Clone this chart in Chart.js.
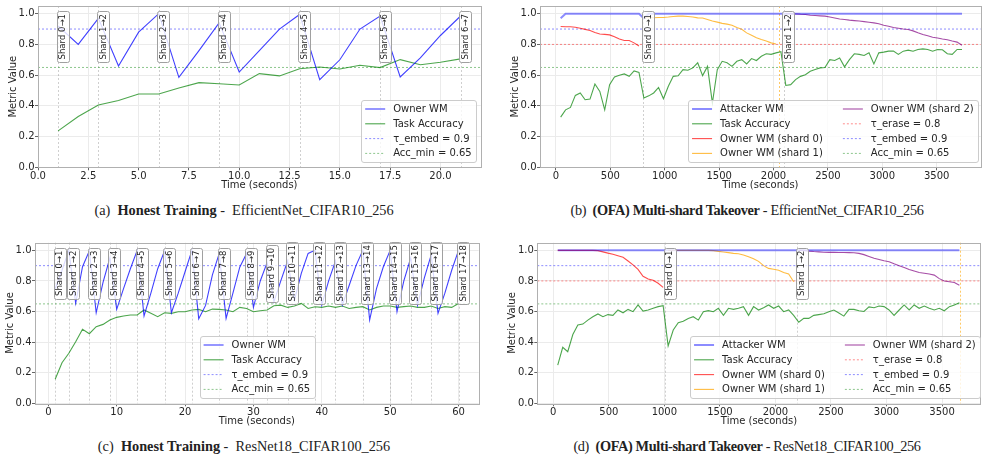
<!DOCTYPE html>
<html>
<head>
<meta charset="utf-8">
<script src="https://cdn.jsdelivr.net/npm/chart.js@4.4.1/dist/chart.umd.min.js"></script>
<style>
  body { margin: 0; background: #fff; }
  #page { position: relative; width: 989px; height: 461px; overflow: hidden; background: #fff; }
  canvas { position: absolute; }
  .cap { position: absolute; width: 494px; text-align: center; white-space: nowrap;
         font-family: "Liberation Serif", "DejaVu Serif", serif; font-size: 14.3px; color: #222; }
  .cap.r { letter-spacing: -0.35px; }
</style>
</head>
<body>
<div id="page">
  <canvas id="chartA"></canvas>
  <canvas id="chartB"></canvas>
  <canvas id="chartC"></canvas>
  <canvas id="chartD"></canvas>
  <div class="cap" style="left:-3px;top:202px">(a)&nbsp; <b>Honest Training</b> -&nbsp; EfficientNet_CIFAR10_256</div>
  <div class="cap r" style="left:500px;top:202px">(b)&nbsp; <b>(OFA) Multi-shard Takeover</b> - EfficientNet_CIFAR10_256</div>
  <div class="cap" style="left:-3px;top:438px">(c)&nbsp; <b>Honest Training</b> -&nbsp; ResNet18_CIFAR100_256</div>
  <div class="cap r" style="left:500px;top:438px">(d)&nbsp; <b>(OFA) Multi-shard Takeover</b> - ResNet18_CIFAR100_256</div>
</div>
<script>
// ---- thresholds / shared ----
const tauEmbed = 0.9;
const tauErase = 0.8;
const accMin = 0.65;
const yTicks = [0, 0.2, 0.4, 0.6, 0.8, 1.0];

// ---- (a) honest training, EfficientNet ----
const timeA = [1, 2, 3, 4, 5, 6, 7, 8, 9, 10, 11, 12, 13, 14, 15, 16, 17, 18, 19, 20, 21];
const ownerA = [0.92, 0.80, 0.97, 0.66, 0.88, 1.0, 0.585, 0.76, 0.94, 0.62, 0.76, 0.90, 0.995, 0.57, 0.70, 0.90, 0.985, 0.588, 0.712, 0.858, 0.985];
const accA = [0.237, 0.331, 0.405, 0.435, 0.477, 0.477, 0.516, 0.551, 0.544, 0.536, 0.61, 0.595, 0.642, 0.653, 0.64, 0.664, 0.649, 0.701, 0.668, 0.684, 0.706];
const shardTimesA = [1, 3, 6, 9, 13, 17, 21];
const shardLabelsA = ['Shard 0→1', 'Shard 1→2', 'Shard 2→3', 'Shard 3→4', 'Shard 4→5', 'Shard 5→6', 'Shard 6→7'];
const xTicksA = [0, 2.5, 5, 7.5, 10, 12.5, 15, 17.5, 20];

// ---- (b) OFA takeover, EfficientNet ----
const timeB = [43, 88, 133, 178, 223, 268, 313, 358, 403, 448, 493, 538, 583, 628, 673, 718, 763, 808, 853, 898,
  943, 988, 1033, 1078, 1123, 1168, 1213, 1258, 1303, 1348, 1393, 1438, 1483, 1528, 1573, 1618, 1663, 1708, 1753, 1798,
  1843, 1888, 1933, 1978, 2023, 2068, 2113, 2158, 2203, 2248, 2293, 2338, 2383, 2428, 2473, 2518, 2563, 2608, 2653, 2698,
  2743, 2788, 2833, 2878, 2923, 2968, 3013, 3058, 3103, 3148, 3193, 3238, 3283, 3328, 3373, 3418, 3463, 3508, 3553, 3598,
  3643, 3688, 3733];
const attackerB = [0.97, 1, 1, 1, 1, 1, 1, 1, 1, 1, 1, 1, 1, 1, 1, 1, 1, 0.97, 1, 1,
  1, 1, 1, 1, 1, 1, 1, 1, 1, 1, 1, 1, 1, 1, 1, 1, 1, 1, 1, 1,
  1, 1, 1, 1, 1, 1, 1, 1, 1, 1, 1, 1, 1, 1, 1, 1, 1, 1, 1, 1,
  1, 1, 1, 1, 1, 1, 1, 1, 1, 1, 1, 1, 1, 1, 1, 1, 1, 1, 1, 1,
  1, 1, 1];
const accB = [0.327, 0.374, 0.39, 0.468, 0.484, 0.44, 0.444, 0.542, 0.494, 0.374, 0.538, 0.588, 0.599, 0.608, 0.592, 0.627, 0.618, 0.451, 0.465, 0.484,
  0.52, 0.446, 0.527, 0.592, 0.596, 0.636, 0.632, 0.647, 0.68, 0.597, 0.657, 0.418, 0.636, 0.69, 0.68, 0.657, 0.69, 0.701, 0.673, 0.708,
  0.695, 0.723, 0.739, 0.735, 0.745, 0.752, 0.533, 0.538, 0.571, 0.592, 0.603, 0.625, 0.636, 0.647, 0.65, 0.701, 0.695, 0.712, 0.654, 0.701,
  0.739, 0.735, 0.728, 0.745, 0.673, 0.745, 0.75, 0.756, 0.756, 0.735, 0.756, 0.763, 0.756, 0.767, 0.771, 0.767, 0.756, 0.767, 0.765, 0.739,
  0.735, 0.767, 0.767];
// owner shards: value lists start at the given index of timeB
const ownerB0 = [0.917, 0.915, 0.915, 0.912, 0.905, 0.898, 0.89, 0.878, 0.868, 0.865, 0.862, 0.85, 0.835, 0.825, 0.825, 0.81, 0.79];
const ownerB0Start = 0;
const ownerB1 = [0.974, 0.974, 0.974, 0.975, 0.975, 0.978, 0.982, 0.984, 0.984, 0.982, 0.978, 0.973, 0.972, 0.962, 0.952, 0.945, 0.937, 0.932, 0.925, 0.91,
  0.898, 0.875, 0.86, 0.843, 0.832, 0.822, 0.81, 0.803];
const ownerB1Start = 17;
const ownerB2 = [1.0, 1.0, 0.998, 0.996, 0.995, 0.99, 0.988, 0.986, 0.984, 0.978, 0.972, 0.965, 0.962, 0.958, 0.955, 0.952, 0.948, 0.944, 0.94, 0.935,
  0.925, 0.918, 0.91, 0.905, 0.9, 0.897, 0.888, 0.876, 0.865, 0.856, 0.847, 0.842, 0.835, 0.83, 0.822, 0.815, 0.795];
const ownerB2Start = 46;
const shardTimesB = [804, 2093];
const shardLabelsB = ['Shard 0→1', 'Shard 1→2'];
const markTimesB = [2050];
const xTicksB = [0, 500, 1000, 1500, 2000, 2500, 3000, 3500];

// ---- (c) honest training, ResNet18 ----
const timeC = [1, 2, 3, 4, 5, 6, 7, 8, 9, 10, 11, 12, 13, 14, 15, 16, 17, 18, 19, 20,
  21, 22, 23, 24, 25, 26, 27, 28, 29, 30, 31, 32, 33, 34, 35, 36, 37, 38, 39, 40,
  41, 42, 43, 44, 45, 46, 47, 48, 49, 50, 51, 52, 53, 54, 55, 56, 57, 58, 59, 60];
const ownerC = [0.75, 0.87, 1.0, 0.654, 0.893, 0.997, 0.592, 0.79, 0.95, 0.614, 0.75, 0.88, 1.0, 0.571, 0.72, 0.88, 0.997, 0.592, 0.72, 0.86,
  1.0, 0.553, 0.64, 0.84, 0.98, 0.555, 0.72, 0.89, 0.98, 0.627, 0.8, 0.92, 0.664, 0.8, 0.93, 0.675, 0.85, 0.98, 1.0, 0.642,
  0.8, 0.93, 0.642, 0.77, 0.9, 1.0, 0.545, 0.75, 0.893, 1.0, 0.599, 0.8, 0.95, 0.642, 0.82, 0.97, 0.588, 0.72, 0.87, 1.0];
const accC = [0.157, 0.265, 0.327, 0.403, 0.484, 0.455, 0.501, 0.516, 0.545, 0.562, 0.571, 0.577, 0.577, 0.61, 0.588, 0.566, 0.592, 0.588, 0.599, 0.599,
  0.61, 0.614, 0.599, 0.616, 0.614, 0.61, 0.599, 0.627, 0.62, 0.599, 0.605, 0.61, 0.638, 0.642, 0.627, 0.636, 0.653, 0.62, 0.631, 0.627,
  0.636, 0.627, 0.636, 0.62, 0.627, 0.632, 0.61, 0.627, 0.636, 0.636, 0.627, 0.632, 0.636, 0.627, 0.627, 0.636, 0.62, 0.632, 0.627, 0.653];
const shardTimesC = [1, 3, 6, 9, 13, 17, 21, 25, 29, 32, 35, 39, 42, 46, 50, 53, 56, 60];
const shardLabelsC = ['Shard 0→1', 'Shard 1→2', 'Shard 2→3', 'Shard 3→4', 'Shard 4→5', 'Shard 5→6', 'Shard 6→7', 'Shard 7→8', 'Shard 8→9',
  'Shard 9→10', 'Shard 10→11', 'Shard 11→12', 'Shard 12→13', 'Shard 13→14', 'Shard 14→15', 'Shard 15→16', 'Shard 16→17', 'Shard 17→18'];
const xTicksC = [0, 10, 20, 30, 40, 50, 60];

// ---- (d) OFA takeover, ResNet18 ----
const timeD = [40, 85, 130, 176, 221, 266, 311, 356, 402, 447, 492, 537, 582, 628, 673, 718, 763, 808, 854, 899,
  944, 989, 1034, 1080, 1125, 1170, 1215, 1260, 1306, 1351, 1396, 1441, 1486, 1532, 1577, 1622, 1667, 1712, 1758, 1803,
  1848, 1893, 1938, 1984, 2029, 2074, 2119, 2164, 2210, 2255, 2300, 2345, 2390, 2436, 2481, 2526, 2571, 2616, 2662, 2707,
  2752, 2797, 2842, 2888, 2933, 2978, 3023, 3068, 3114, 3159, 3204, 3249, 3294, 3340, 3385, 3430, 3475, 3520, 3566, 3611,
  3656];
const attackerD = [1, 1, 1, 1, 1, 1, 1, 1, 1, 1, 1, 1, 1, 1, 1, 1, 1, 1, 1, 1,
  1, 1, 1, 1, 1, 1, 1, 1, 1, 1, 1, 1, 1, 1, 1, 1, 1, 1, 1, 1,
  1, 1, 1, 1, 1, 1, 1, 1, 1, 1, 1, 1, 1, 1, 1, 1, 1, 1, 1, 1,
  1, 1, 1, 1, 1, 1, 1, 1, 1, 1, 1, 1, 1, 1, 1, 1, 1, 1, 1, 1,
  1];
const accD = [0.25, 0.366, 0.337, 0.45, 0.512, 0.518, 0.544, 0.566, 0.584, 0.566, 0.58, 0.575, 0.61, 0.592, 0.614, 0.599, 0.643, 0.603, 0.61, 0.621,
  0.632, 0.638, 0.375, 0.479, 0.527, 0.536, 0.555, 0.566, 0.544, 0.599, 0.606, 0.599, 0.621, 0.575, 0.621, 0.614, 0.621, 0.632, 0.575, 0.632,
  0.61, 0.625, 0.643, 0.621, 0.636, 0.599, 0.61, 0.575, 0.53, 0.555, 0.555, 0.575, 0.58, 0.585, 0.599, 0.61, 0.59, 0.57, 0.614, 0.614,
  0.605, 0.6, 0.63, 0.625, 0.636, 0.632, 0.61, 0.575, 0.61, 0.643, 0.61, 0.643, 0.621, 0.636, 0.621, 0.61, 0.621, 0.605, 0.632, 0.643,
  0.658];
const ownerD0 = [1, 1, 1, 1, 1, 1, 1, 1, 0.998, 0.99, 0.982, 0.975, 0.965, 0.955, 0.93, 0.905, 0.875, 0.83, 0.812, 0.805, 0.785, 0.758];
const ownerD0Start = 0;
const ownerD1 = [1, 1, 1, 1, 1, 1, 1, 1, 1, 0.998, 0.993, 0.989, 0.985, 0.98, 0.978, 0.97, 0.958, 0.945, 0.928, 0.9,
  0.882, 0.876, 0.87, 0.855, 0.845, 0.795];
const ownerD1Start = 22;
const ownerD2 = [1, 1, 0.995, 0.992, 0.99, 0.988, 0.987, 0.987, 0.986, 0.986, 0.985, 0.984, 0.98, 0.972, 0.96, 0.948, 0.94, 0.932, 0.925, 0.912,
  0.9, 0.888, 0.875, 0.865, 0.855, 0.85, 0.845, 0.838, 0.815, 0.8, 0.795, 0.79, 0.772];
const ownerD2Start = 48;
const shardTimesD = [1006, 2196];
const shardLabelsD = ['Shard 0→1', 'Shard 1→2'];
const markTimesD = [3660];
const xTicksD = [0, 500, 1000, 1500, 2000, 2500, 3000, 3500];

// ---- style ----
const FONT = '"DejaVu Sans", sans-serif';
const TXT = '#262626';
const COL = {
  owner: 'rgba(0,0,255,0.75)',
  attacker: 'rgba(0,0,255,0.45)',
  acc: 'rgba(0,128,0,0.7)',
  s0: 'rgba(255,0,0,0.7)',
  s1: 'rgba(255,165,0,0.75)',
  s2: 'rgba(128,0,128,0.7)',
  embed: 'rgba(0,0,255,0.45)',
  erase: 'rgba(255,0,0,0.45)',
  accMin: 'rgba(0,128,0,0.45)'
};

function pts(times, vals) {
  return vals.map((v, i) => ({ x: times[i], y: v }));
}
function hline(v, xr) {
  return [{ x: xr[0], y: v }, { x: xr[1], y: v }];
}
function ds(label, data, color, width, dash) {
  return { label: label, data: data, borderColor: color, backgroundColor: color,
           borderWidth: width || 1.2, borderDash: dash || [], pointRadius: 0, fill: false, tension: 0 };
}

function panel(id, geo, xr, xTicks, xFmt, datasets, shards, shardLabels, marks, leg) {
  const cv = document.getElementById(id);
  cv.width = geo.w;
  cv.height = geo.h;
  cv.style.left = geo.x + 'px';
  cv.style.top = geo.y + 'px';
  const a = geo.area;
  const font = { family: FONT, size: 10, lineHeight: 1.0 };
  const titleFont = { family: FONT, size: 10, lineHeight: 1.2 };

  // full box around the plot area
  const frame = {
    id: 'frame',
    afterDraw(chart) {
      const ctx = chart.ctx, ca = chart.chartArea;
      ctx.save();
      ctx.strokeStyle = '#b0b0b0';
      ctx.lineWidth = 1;
      ctx.strokeRect(Math.round(ca.left) + 0.5, Math.round(ca.top) + 0.5,
                     Math.round(ca.right - ca.left), Math.round(ca.bottom - ca.top));
      ctx.restore();
    }
  };

  // shard switch lines + rotated labels
  const shardMarks = {
    id: 'shardMarks',
    beforeDatasetsDraw(chart) {
      const ctx = chart.ctx, ca = chart.chartArea, xs = chart.scales.x;
      ctx.save();
      ctx.lineWidth = 1;
      ctx.setLineDash([2, 2]);
      ctx.strokeStyle = 'rgba(128,128,128,0.38)';
      shards.forEach(t => {
        const px = Math.round(xs.getPixelForValue(t)) + 0.5;
        ctx.beginPath(); ctx.moveTo(px, ca.top); ctx.lineTo(px, ca.bottom); ctx.stroke();
      });
      ctx.strokeStyle = 'rgba(255,165,0,0.6)';
      marks.forEach(t => {
        const px = Math.round(xs.getPixelForValue(t)) + 0.5;
        ctx.beginPath(); ctx.moveTo(px, ca.top); ctx.lineTo(px, ca.bottom); ctx.stroke();
      });
      ctx.restore();
    },
    afterDatasetsDraw(chart) {
      const ctx = chart.ctx, xs = chart.scales.x, ys = chart.scales.y;
      ctx.save();
      ctx.font = '8.5px ' + FONT;
      shards.forEach((t, i) => {
        const lbl = shardLabels[i];
        const tw = ctx.measureText(lbl).width;
        const cx = xs.getPixelForValue(t) + 4.5;
        const cy = ys.getPixelForValue(0.85);
        const bw = 12, bh = tw + 6;
        ctx.beginPath();
        ctx.roundRect(Math.round(cx - bw / 2) + 0.5, Math.round(cy - bh / 2) + 0.5, bw, Math.round(bh), 2);
        ctx.fillStyle = 'rgba(255,255,255,0.8)';
        ctx.fill();
        ctx.strokeStyle = '#a0a0a0';
        ctx.lineWidth = 1;
        ctx.stroke();
        ctx.translate(cx + 0.5, cy);
        ctx.rotate(-Math.PI / 2);
        ctx.fillStyle = TXT;
        ctx.textAlign = 'center';
        ctx.textBaseline = 'middle';
        ctx.fillText(lbl, 0, 0);
        ctx.setTransform(1, 0, 0, 1, 0, 0);
      });
      ctx.restore();
    }
  };

  // matplotlib-like legend box inside the plot
  const boxLegend = {
    id: 'boxLegend',
    afterDraw(chart) {
      const ctx = chart.ctx, ca = chart.chartArea;
      const items = chart.data.datasets;
      ctx.save();
      ctx.font = '10px ' + FONT;
      const rows = Math.ceil(items.length / leg.cols);
      const colW = [];
      for (let c = 0; c < leg.cols; c++) {
        let m = 0;
        items.slice(c * rows, (c + 1) * rows).forEach(d => { m = Math.max(m, ctx.measureText(d.label).width); });
        colW.push(28 + m);
      }
      const w = 8 + colW.reduce((s, v) => s + v, 0) + (leg.cols - 1) * 20;
      const h = 8 + rows * 9.8 + (rows - 1) * 5;
      const bottom = ca.bottom - leg.dy;
      const left = leg.align === 'center' ? (ca.left + ca.right) / 2 - w / 2 : ca.right - leg.dx - w;
      const top = bottom - h;
      ctx.beginPath();
      ctx.roundRect(Math.round(left) + 0.5, Math.round(top) + 0.5, Math.round(w), Math.round(h), 2.5);
      ctx.fillStyle = 'rgba(255,255,255,0.8)';
      ctx.fill();
      ctx.strokeStyle = '#cccccc';
      ctx.lineWidth = 1;
      ctx.stroke();
      let cx = left + 4;
      for (let c = 0; c < leg.cols; c++) {
        items.slice(c * rows, (c + 1) * rows).forEach((d, i) => {
          const cy = top + 8.9 + i * 14.8;
          ctx.strokeStyle = d.borderColor;
          ctx.lineWidth = d.borderWidth;
          ctx.setLineDash(d.borderDash || []);
          ctx.beginPath(); ctx.moveTo(cx, cy); ctx.lineTo(cx + 20, cy); ctx.stroke();
          ctx.setLineDash([]);
          ctx.fillStyle = TXT;
          ctx.textAlign = 'left';
          ctx.textBaseline = 'middle';
          ctx.fillText(d.label, cx + 28, cy + 0.5);
        });
        cx += colW[c] + 20;
      }
      ctx.restore();
    }
  };

  return new Chart(cv, {
    type: 'line',
    data: { datasets: datasets },
    options: {
      responsive: false,
      animation: false,
      devicePixelRatio: 1,
      layout: { padding: { left: 0, top: a[1] - geo.y, right: geo.x + geo.w - a[2], bottom: 0 } },
      plugins: { legend: { display: false }, tooltip: { enabled: false } },
      scales: {
        x: {
          type: 'linear',
          min: xr[0],
          max: xr[1],
          afterBuildTicks: s => { s.ticks = xTicks.map(v => ({ value: v })); },
          afterFit: s => { s.height = geo.y + geo.h - a[3]; },
          ticks: { callback: xFmt, font: font, color: TXT, padding: 1, maxRotation: 0, autoSkip: false },
          grid: { color: '#ebebeb', tickColor: '#666', tickLength: 3 },
          border: { display: false },
          title: { display: true, text: 'Time (seconds)', font: titleFont, color: TXT, padding: { top: 0, bottom: 0 } }
        },
        y: {
          min: 0,
          max: 1.05,
          afterBuildTicks: s => { s.ticks = yTicks.map(v => ({ value: v })); },
          afterFit: s => { s.width = a[0] - geo.x; },
          ticks: { callback: v => v.toFixed(1), font: font, color: TXT, padding: 0.5 },
          grid: { color: '#ebebeb', tickColor: '#666', tickLength: 3 },
          border: { display: false },
          title: { display: true, text: 'Metric Value', font: titleFont, color: TXT, padding: { top: geo.yTitlePad, bottom: 0 } }
        }
      }
    },
    plugins: [shardMarks, frame, boxLegend]
  });
}

// ---- build panels ----
const xrA = [0, 22];
panel('chartA', { x: 0, y: 0, w: 494, h: 191, area: [38, 6, 480.7, 167.3], yTitlePad: 7 },
  xrA, xTicksA, v => v.toFixed(1), [
    ds('Owner WM', pts(timeA, ownerA), COL.owner, 1.1),
    ds('Task Accuracy', pts(timeA, accA), COL.acc, 1.1),
    ds('τ_embed = 0.9', hline(tauEmbed, xrA), COL.embed, 1, [2, 2]),
    ds('Acc_min = 0.65', hline(accMin, xrA), COL.accMin, 1, [2, 2])
  ], shardTimesA, shardLabelsA, [], { cols: 1, align: 'right', dx: 5, dy: 5 });

const xrB = [-147, 3905];
panel('chartB', { x: 494, y: 0, w: 495, h: 191, area: [540, 6, 980.7, 167.3], yTitlePad: 15.8 },
  xrB, xTicksB, v => String(v), [
    ds('Attacker WM', pts(timeB, attackerB), COL.attacker, 2),
    ds('Task Accuracy', pts(timeB, accB), COL.acc, 1.1),
    ds('Owner WM (shard 0)', pts(timeB.slice(ownerB0Start), ownerB0), COL.s0, 1.1),
    ds('Owner WM (shard 1)', pts(timeB.slice(ownerB1Start), ownerB1), COL.s1, 1.1),
    ds('Owner WM (shard 2)', pts(timeB.slice(ownerB2Start), ownerB2), COL.s2, 1.1),
    ds('τ_erase = 0.8', hline(tauErase, xrB), COL.erase, 1, [2, 2]),
    ds('τ_embed = 0.9', hline(tauEmbed, xrB), COL.embed, 1, [2, 2]),
    ds('Acc_min = 0.65', hline(accMin, xrB), COL.accMin, 1, [2, 2])
  ], shardTimesB, shardLabelsB, markTimesB, { cols: 2, align: 'right', dx: 3, dy: 5 });

const xrC = [-1.95, 62.95];
panel('chartC', { x: 0, y: 232, w: 494, h: 195, area: [35, 242.7, 478.7, 403.3], yTitlePad: 4.8 },
  xrC, xTicksC, v => String(v), [
    ds('Owner WM', pts(timeC, ownerC), COL.owner, 1.1),
    ds('Task Accuracy', pts(timeC, accC), COL.acc, 1.1),
    ds('τ_embed = 0.9', hline(tauEmbed, xrC), COL.embed, 1, [2, 2]),
    ds('Acc_min = 0.65', hline(accMin, xrC), COL.accMin, 1, [2, 2])
  ], shardTimesC, shardLabelsC, [], { cols: 1, align: 'center', dy: 5 });

const xrD = [-144, 3848];
panel('chartD', { x: 494, y: 232, w: 495, h: 195, area: [537.3, 242.7, 980.7, 403.3], yTitlePad: 12.5 },
  xrD, xTicksD, v => String(v), [
    ds('Attacker WM', pts(timeD, attackerD), COL.attacker, 2),
    ds('Task Accuracy', pts(timeD, accD), COL.acc, 1.1),
    ds('Owner WM (shard 0)', pts(timeD.slice(ownerD0Start), ownerD0), COL.s0, 1.1),
    ds('Owner WM (shard 1)', pts(timeD.slice(ownerD1Start), ownerD1), COL.s1, 1.1),
    ds('Owner WM (shard 2)', pts(timeD.slice(ownerD2Start), ownerD2), COL.s2, 1.1),
    ds('τ_erase = 0.8', hline(tauErase, xrD), COL.erase, 1, [2, 2]),
    ds('τ_embed = 0.9', hline(tauEmbed, xrD), COL.embed, 1, [2, 2]),
    ds('Acc_min = 0.65', hline(accMin, xrD), COL.accMin, 1, [2, 2])
  ], shardTimesD, shardLabelsD, markTimesD, { cols: 2, align: 'right', dx: 1, dy: 5 });
</script>
</body>
</html>
